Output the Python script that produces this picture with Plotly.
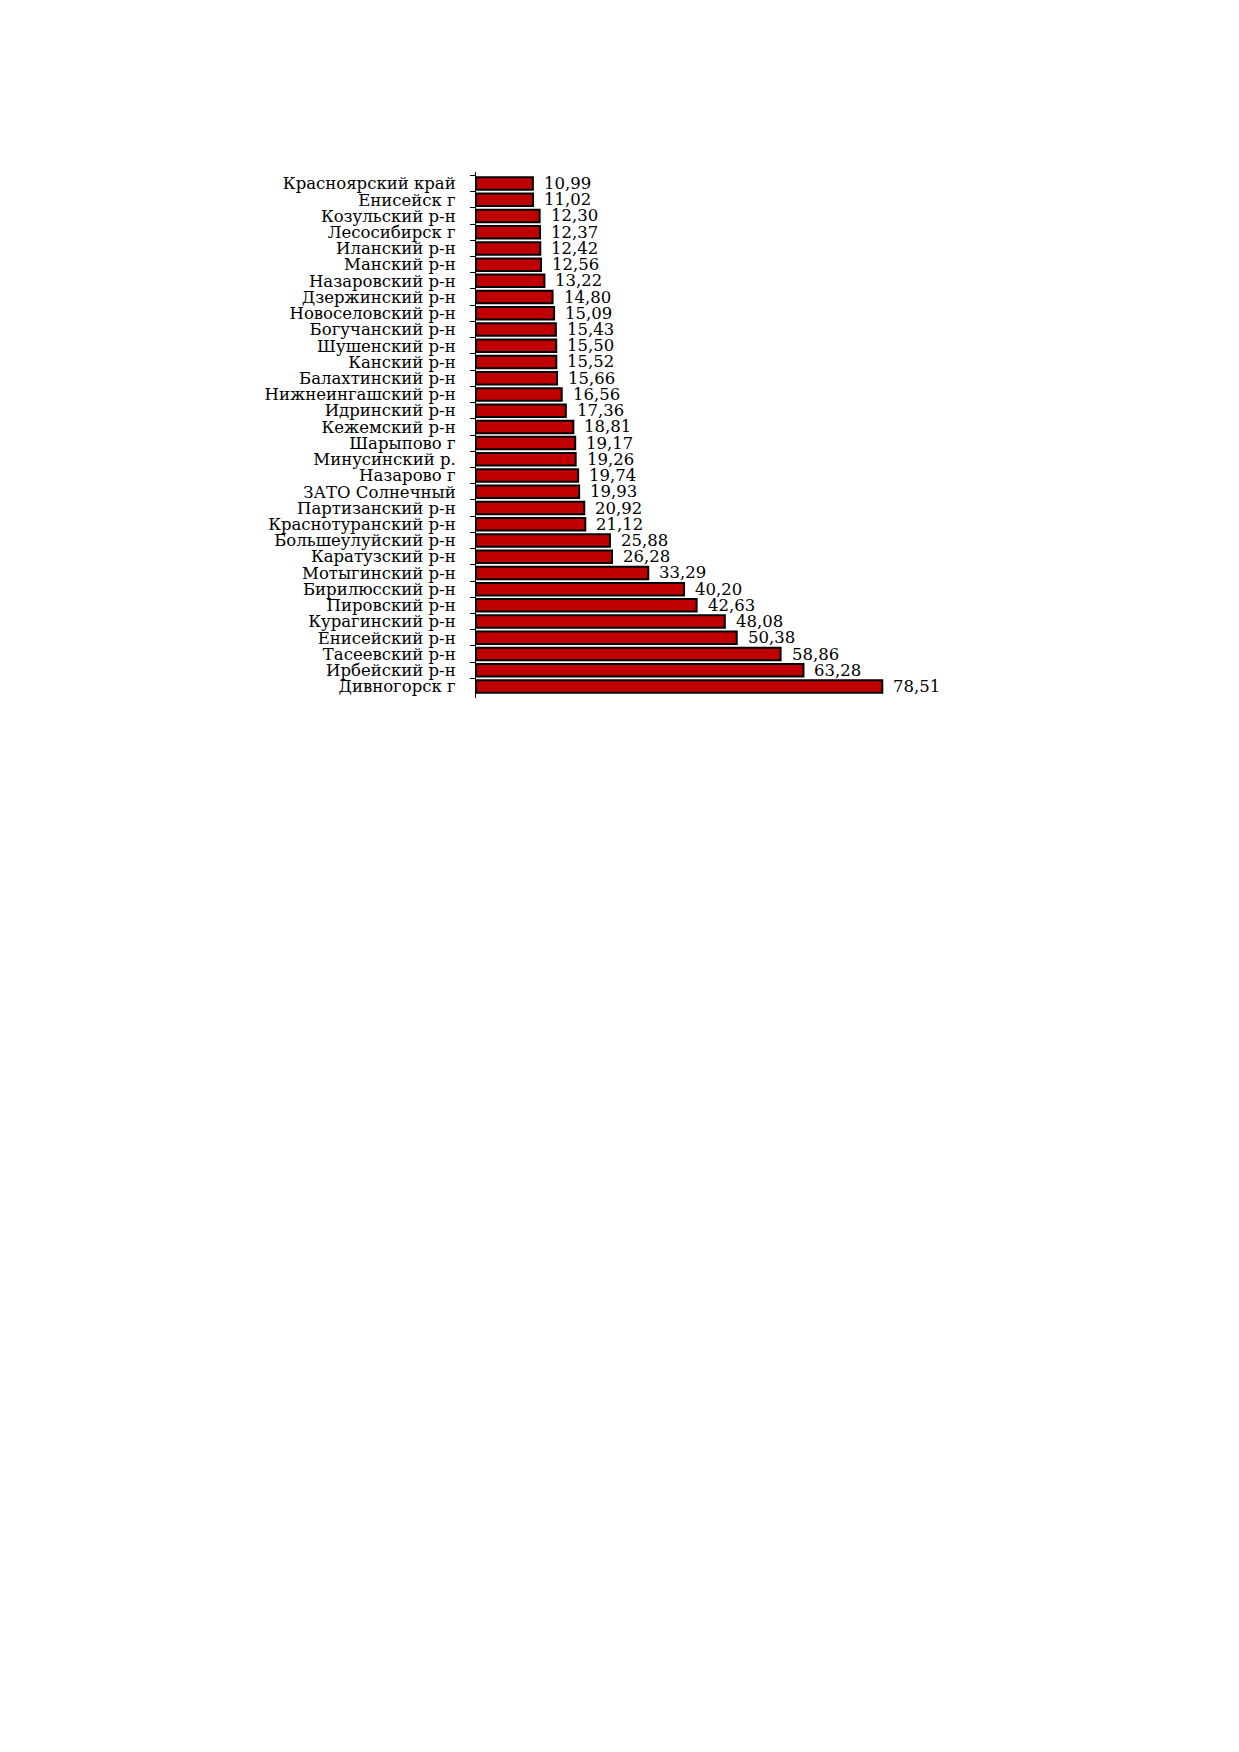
import plotly.graph_objects as go

categories = [
    "Красноярский край", "Енисейск г", "Козульский р-н", "Лесосибирск г",
    "Иланский р-н", "Манский р-н", "Назаровский р-н", "Дзержинский р-н",
    "Новоселовский р-н", "Богучанский р-н", "Шушенский р-н", "Канский р-н",
    "Балахтинский р-н", "Нижнеингашский р-н", "Идринский р-н", "Кежемский р-н",
    "Шарыпово г", "Минусинский р.", "Назарово г", "ЗАТО Солнечный",
    "Партизанский р-н", "Краснотуранский р-н", "Большеулуйский р-н",
    "Каратузский р-н", "Мотыгинский р-н", "Бирилюсский р-н", "Пировский р-н",
    "Курагинский р-н", "Енисейский р-н", "Тасеевский р-н", "Ирбейский р-н",
    "Дивногорск г",
]
values = [
    10.99, 11.02, 12.30, 12.37, 12.42, 12.56, 13.22, 14.80, 15.09, 15.43,
    15.50, 15.52, 15.66, 16.56, 17.36, 18.81, 19.17, 19.26, 19.74, 19.93,
    20.92, 21.12, 25.88, 26.28, 33.29, 40.20, 42.63, 48.08, 50.38, 58.86,
    63.28, 78.51,
]
value_labels = [f"{v:.2f}".replace(".", ",") for v in values]

FONT = "DejaVu Serif"
FS = 16.5

fig = go.Figure()
fig.add_trace(go.Bar(
    x=values,
    y=categories,
    orientation="h",
    marker=dict(color="#C00000", line=dict(color="black", width=2)),
    hoverinfo="skip",
))

for c, v, t in zip(categories, values, value_labels):
    fig.add_annotation(
        x=v, y=c, text=t, showarrow=False,
        xanchor="left", yanchor="middle", xshift=9,
        font=dict(family=FONT, size=FS, color="black"),
    )

OFF = 8  # page body margin
L, R_EDGE, TOP, BOTTOM = 476 - OFF, 890.4 - OFF, 172 - OFF, 698 - OFF
W, H = 1239 - 2 * OFF, 1752 - 2 * OFF

fig.update_layout(
    width=W, height=H,
    margin=dict(l=L, r=W - R_EDGE, t=TOP, b=H - BOTTOM, pad=0),
    paper_bgcolor="white", plot_bgcolor="white",
    showlegend=False,
    bargap=0.23,
    font=dict(family=FONT, size=FS, color="black"),
    xaxis=dict(range=[0, 80], visible=False, showgrid=False, zeroline=False),
    yaxis=dict(
        autorange="reversed",
        tickmode="linear", tick0=0, dtick=1,
        showline=True, linecolor="black", linewidth=1,
        ticks="outside", tickson="boundaries", ticklen=5,
        tickcolor="black", tickwidth=1,
        showgrid=False, zeroline=False,
        ticklabelstandoff=16,
        tickfont=dict(family=FONT, size=FS, color="black"),
    ),
)

fig.write_html("out.html")
